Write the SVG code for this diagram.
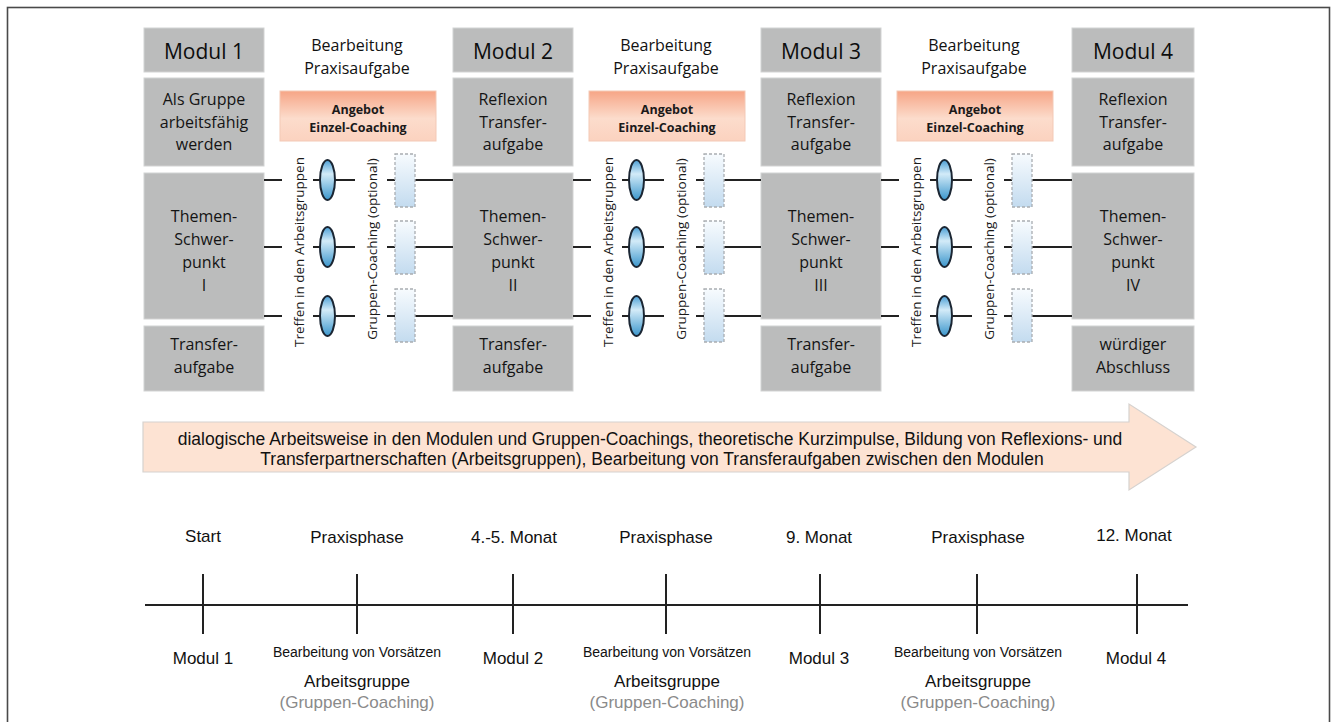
<svg xmlns="http://www.w3.org/2000/svg" width="1334" height="722" viewBox="0 0 1334 722">
<defs>
<linearGradient id="gOrange" x1="0" y1="0" x2="0" y2="1">
<stop offset="0" stop-color="#f6a586"/>
<stop offset="0.55" stop-color="#fcdccc"/>
<stop offset="1" stop-color="#fbd2bf"/>
</linearGradient>
<linearGradient id="gEll" x1="0" y1="0" x2="0" y2="1">
<stop offset="0" stop-color="#4b9fd6"/>
<stop offset="0.35" stop-color="#d3ebf8"/>
<stop offset="1" stop-color="#3b96cc"/>
</linearGradient>
<linearGradient id="gDash" x1="0" y1="0" x2="0" y2="1">
<stop offset="0" stop-color="#f7fbfe"/>
<stop offset="1" stop-color="#c3dbef"/>
</linearGradient>
<style>
.box{fill:#bbbcbc;stroke:#d2d3d3;stroke-width:1}
.hd{font-family:"Open Sans",sans-serif;font-size:21px;fill:#0d0d0d;text-anchor:middle}
.bt{font-family:"Open Sans",sans-serif;font-size:16px;fill:#141414;text-anchor:middle}
.ph{font-family:"Open Sans",sans-serif;font-size:16px;fill:#111;text-anchor:middle}
.ang{fill:url(#gOrange);stroke:#f3c9b6;stroke-width:1}
.at{font-family:"Open Sans",sans-serif;font-size:12.5px;font-weight:bold;fill:#1a1a1a;text-anchor:middle}
.rt{font-family:"Open Sans",sans-serif;font-size:13.5px;fill:#1a1a1a;text-anchor:middle}
.ell{fill:url(#gEll);stroke:#1b2633;stroke-width:2}
.dbox{fill:url(#gDash);stroke:#a9adb1;stroke-width:1.3;stroke-dasharray:3 2}
.ln{stroke:#222;stroke-width:2;fill:none}
.tl{stroke:#222;stroke-width:2;fill:none}
.lt{font-family:"Liberation Sans",Arial,sans-serif;font-size:17px;fill:#111;text-anchor:middle}
.ls{font-family:"Liberation Sans",Arial,sans-serif;font-size:14px;fill:#111;text-anchor:middle}
.lg{font-family:"Liberation Sans",Arial,sans-serif;font-size:17px;fill:#8a8a8a;text-anchor:middle}
.arrtxt{font-family:"Liberation Sans",Arial,sans-serif;font-size:17.5px;fill:#111;text-anchor:middle}
</style>
</defs>
<rect x="0" y="0" width="1334" height="722" fill="#ffffff"/>
<rect id="frame" x="7.5" y="7.5" width="1322" height="730" fill="none" stroke="#4a4a4a" stroke-width="1.6"/>

<!-- Modul 1 -->
<g id="modul1">
<rect class="box" x="144" y="28" width="120" height="44"/>
<text class="hd" x="204" y="59">Modul 1</text>
<rect class="box" x="144" y="78" width="120" height="88"/>
<text class="bt" x="204" y="105">Als Gruppe</text>
<text class="bt" x="204" y="127.5">arbeitsfähig</text>
<text class="bt" x="204" y="150">werden</text>
<rect class="box" x="144" y="173" width="120" height="146"/>
<text class="bt" x="204" y="222">Themen-</text>
<text class="bt" x="204" y="245">Schwer-</text>
<text class="bt" x="204" y="268">punkt</text>
<text class="bt" x="204" y="291">I</text>
<rect class="box" x="144" y="326" width="120" height="65"/>
<text class="bt" x="204" y="350">Transfer-</text>
<text class="bt" x="204" y="373">aufgabe</text>
</g>

<!-- Modul 2 -->
<g id="modul2">
<rect class="box" x="453" y="28" width="120" height="44"/>
<text class="hd" x="513" y="59">Modul 2</text>
<rect class="box" x="453" y="78" width="120" height="88"/>
<text class="bt" x="513" y="105">Reflexion</text>
<text class="bt" x="513" y="127.5">Transfer-</text>
<text class="bt" x="513" y="150">aufgabe</text>
<rect class="box" x="453" y="173" width="120" height="146"/>
<text class="bt" x="513" y="222">Themen-</text>
<text class="bt" x="513" y="245">Schwer-</text>
<text class="bt" x="513" y="268">punkt</text>
<text class="bt" x="513" y="291">II</text>
<rect class="box" x="453" y="326" width="120" height="65"/>
<text class="bt" x="513" y="350">Transfer-</text>
<text class="bt" x="513" y="373">aufgabe</text>
</g>

<!-- Modul 3 -->
<g id="modul3">
<rect class="box" x="761" y="28" width="120" height="44"/>
<text class="hd" x="821" y="59">Modul 3</text>
<rect class="box" x="761" y="78" width="120" height="88"/>
<text class="bt" x="821" y="105">Reflexion</text>
<text class="bt" x="821" y="127.5">Transfer-</text>
<text class="bt" x="821" y="150">aufgabe</text>
<rect class="box" x="761" y="173" width="120" height="146"/>
<text class="bt" x="821" y="222">Themen-</text>
<text class="bt" x="821" y="245">Schwer-</text>
<text class="bt" x="821" y="268">punkt</text>
<text class="bt" x="821" y="291">III</text>
<rect class="box" x="761" y="326" width="120" height="65"/>
<text class="bt" x="821" y="350">Transfer-</text>
<text class="bt" x="821" y="373">aufgabe</text>
</g>

<!-- Modul 4 -->
<g id="modul4">
<rect class="box" x="1072" y="28" width="122" height="44"/>
<text class="hd" x="1133" y="59">Modul 4</text>
<rect class="box" x="1072" y="78" width="122" height="88"/>
<text class="bt" x="1133" y="105">Reflexion</text>
<text class="bt" x="1133" y="127.5">Transfer-</text>
<text class="bt" x="1133" y="150">aufgabe</text>
<rect class="box" x="1072" y="173" width="122" height="146"/>
<text class="bt" x="1133" y="222">Themen-</text>
<text class="bt" x="1133" y="245">Schwer-</text>
<text class="bt" x="1133" y="268">punkt</text>
<text class="bt" x="1133" y="291">IV</text>
<rect class="box" x="1072" y="326" width="122" height="65"/>
<text class="bt" x="1133" y="350">würdiger</text>
<text class="bt" x="1133" y="373">Abschluss</text>
</g>

<!-- connectors -->
<g id="connectors">
<path class="ln" d="M264 180H282 M313 180H355 M387 180H395 M415 180H453 M264 247H282 M313 247H355 M387 247H395 M415 247H453 M264 316H282 M313 316H355 M387 316H395 M415 316H453"/>
<path class="ln" d="M573 180H591 M622 180H664 M696 180H704 M724 180H761 M573 247H591 M622 247H664 M696 247H704 M724 247H761 M573 316H591 M622 316H664 M696 316H704 M724 316H761"/>
<path class="ln" d="M881 180H899 M930 180H972 M1004 180H1012 M1032 180H1072 M881 247H899 M930 247H972 M1004 247H1012 M1032 247H1072 M881 316H899 M930 316H972 M1004 316H1012 M1032 316H1072"/>
</g>

<!-- Praxisphase 1 -->
<g id="praxis1">
<text class="ph" x="357" y="51">Bearbeitung</text>
<text class="ph" x="357" y="74">Praxisaufgabe</text>
<rect class="ang" x="280" y="91" width="156" height="50"/>
<text class="at" x="358" y="113.5">Angebot</text>
<text class="at" x="358" y="131.5">Einzel-Coaching</text>
<text class="rt" transform="translate(304,252) rotate(-90)">Treffen in den Arbeitsgruppen</text>
<text class="rt" transform="translate(377,249) rotate(-90)">Gruppen-Coaching (optional)</text>
<ellipse class="ell" cx="327.5" cy="180" rx="7.5" ry="20"/>
<ellipse class="ell" cx="327.5" cy="247" rx="7.5" ry="20"/>
<ellipse class="ell" cx="327.5" cy="316" rx="7.5" ry="20"/>
<rect class="dbox" x="395" y="154" width="20" height="53"/>
<rect class="dbox" x="395" y="221" width="20" height="53"/>
<rect class="dbox" x="395" y="289" width="20" height="53"/>
</g>

<!-- Praxisphase 2 -->
<g id="praxis2">
<text class="ph" x="666" y="51">Bearbeitung</text>
<text class="ph" x="666" y="74">Praxisaufgabe</text>
<rect class="ang" x="589" y="91" width="156" height="50"/>
<text class="at" x="667" y="113.5">Angebot</text>
<text class="at" x="667" y="131.5">Einzel-Coaching</text>
<text class="rt" transform="translate(613,252) rotate(-90)">Treffen in den Arbeitsgruppen</text>
<text class="rt" transform="translate(686,249) rotate(-90)">Gruppen-Coaching (optional)</text>
<ellipse class="ell" cx="636.5" cy="180" rx="7.5" ry="20"/>
<ellipse class="ell" cx="636.5" cy="247" rx="7.5" ry="20"/>
<ellipse class="ell" cx="636.5" cy="316" rx="7.5" ry="20"/>
<rect class="dbox" x="704" y="154" width="20" height="53"/>
<rect class="dbox" x="704" y="221" width="20" height="53"/>
<rect class="dbox" x="704" y="289" width="20" height="53"/>
</g>

<!-- Praxisphase 3 -->
<g id="praxis3">
<text class="ph" x="974" y="51">Bearbeitung</text>
<text class="ph" x="974" y="74">Praxisaufgabe</text>
<rect class="ang" x="897" y="91" width="156" height="50"/>
<text class="at" x="975" y="113.5">Angebot</text>
<text class="at" x="975" y="131.5">Einzel-Coaching</text>
<text class="rt" transform="translate(921,252) rotate(-90)">Treffen in den Arbeitsgruppen</text>
<text class="rt" transform="translate(994,249) rotate(-90)">Gruppen-Coaching (optional)</text>
<ellipse class="ell" cx="944.5" cy="180" rx="7.5" ry="20"/>
<ellipse class="ell" cx="944.5" cy="247" rx="7.5" ry="20"/>
<ellipse class="ell" cx="944.5" cy="316" rx="7.5" ry="20"/>
<rect class="dbox" x="1012" y="154" width="20" height="53"/>
<rect class="dbox" x="1012" y="221" width="20" height="53"/>
<rect class="dbox" x="1012" y="289" width="20" height="53"/>
</g>

<!-- big arrow -->
<g id="arrow">
<polygon points="143,422 1129,422 1129,404 1196,447 1129,490 1129,472 143,472" fill="#fde3d3" stroke="#d6d2cf" stroke-width="1.2"/>
<text class="arrtxt" x="650" y="445">dialogische Arbeitsweise in den Modulen und Gruppen-Coachings, theoretische Kurzimpulse, Bildung von Reflexions- und</text>
<text class="arrtxt" x="652" y="465">Transferpartnerschaften (Arbeitsgruppen), Bearbeitung von Transferaufgaben zwischen den Modulen</text>
</g>

<!-- timeline -->
<g id="timeline">
<path class="tl" d="M145 605H1188"/>
<path class="tl" d="M203 574V634 M357 574V634 M513 574V634 M666 574V634 M820 574V634 M977 574V634 M1137 574V634"/>
</g>
<g id="t-start">
<text class="lt" x="203" y="542">Start</text>
<text class="lt" x="203" y="664">Modul 1</text>
</g>
<g id="t-praxis1">
<text class="lt" x="357" y="543">Praxisphase</text>
<text class="ls" x="357" y="657">Bearbeitung von Vorsätzen</text>
<text class="lt" x="357" y="687">Arbeitsgruppe</text>
<text class="lg" x="357" y="708">(Gruppen-Coaching)</text>
</g>
<g id="t-m2">
<text class="lt" x="514" y="543">4.-5. Monat</text>
<text class="lt" x="513" y="664">Modul 2</text>
</g>
<g id="t-praxis2">
<text class="lt" x="666" y="543">Praxisphase</text>
<text class="ls" x="667" y="657">Bearbeitung von Vorsätzen</text>
<text class="lt" x="667" y="687">Arbeitsgruppe</text>
<text class="lg" x="667" y="708">(Gruppen-Coaching)</text>
</g>
<g id="t-m3">
<text class="lt" x="819" y="543">9. Monat</text>
<text class="lt" x="819" y="664">Modul 3</text>
</g>
<g id="t-praxis3">
<text class="lt" x="978" y="543">Praxisphase</text>
<text class="ls" x="978" y="657">Bearbeitung von Vorsätzen</text>
<text class="lt" x="978" y="687">Arbeitsgruppe</text>
<text class="lg" x="978" y="708">(Gruppen-Coaching)</text>
</g>
<g id="t-m4">
<text class="lt" x="1134" y="541">12. Monat</text>
<text class="lt" x="1136" y="664">Modul 4</text>
</g>
</svg>
